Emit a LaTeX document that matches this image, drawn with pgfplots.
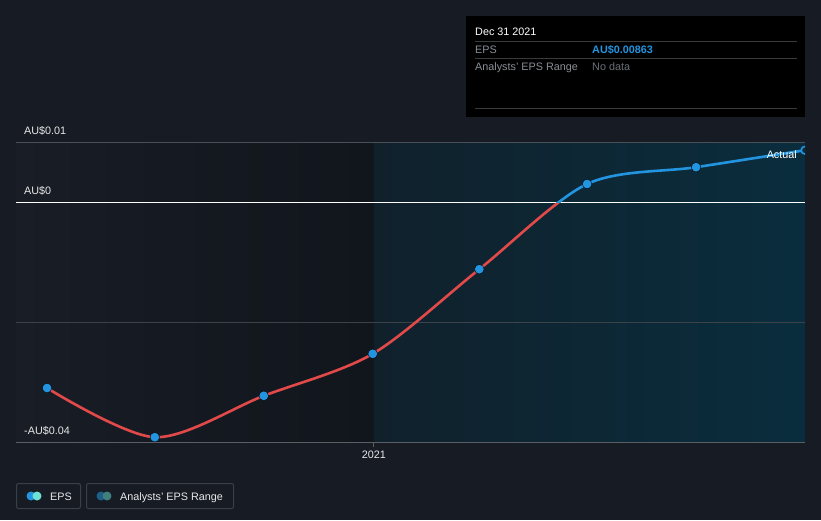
\documentclass[border=0pt]{standalone}
\usepackage{pgfplots}
\usepackage{pgfplotstable}
\pgfplotsset{compat=1.18}
\usepackage{fontspec}
\setmainfont{Liberation Sans}
\definecolor{bg}{HTML}{161B24}
\definecolor{leftA}{HTML}{181D26}
\definecolor{leftB}{HTML}{11151C}
\definecolor{rightA}{HTML}{10212C}
\definecolor{rightB}{HTML}{0A2D3D}
\definecolor{gridc}{HTML}{3C424A}
\definecolor{topc}{HTML}{4A5058}
\definecolor{bottomc}{HTML}{5A5F66}
\definecolor{epsblue}{HTML}{2394DF}
\definecolor{epsred}{HTML}{E24A4A}
\definecolor{epsteal}{HTML}{6EE0D4}
\definecolor{rngblue}{HTML}{1F5D8A}
\definecolor{rngteal}{HTML}{3F7F7C}
\definecolor{tipline}{HTML}{3A3A3A}
\definecolor{tipgrey}{HTML}{8A8F96}
\definecolor{tipdark}{HTML}{6B7078}
\definecolor{legborder}{HTML}{3A4049}
\definecolor{txt}{HTML}{E8E8E8}

% x = days since 31 Mar 2020
\pgfplotstableread{
x y
0 -0.0310
91 -0.0392
183 -0.0323
275 -0.0253
365 -0.0112
456 0.0030
548 0.0058
640 0.00863
}\epsdata
\pgfplotstableread{
x y
0 -0.0310
91 -0.0392
183 -0.0323
275 -0.0253
365 -0.0112
456 0.0030
548 0.0058
}\epsmarks

\begin{document}
\begin{tikzpicture}[font=\fontsize{10.8}{12}\selectfont]
\fill[bg] (0,0) rectangle (821pt,-520pt);
\useasboundingbox (0,0) rectangle (821pt,-520pt);

% tooltip
\fill[black] (466pt,-16pt) rectangle (805pt,-117pt);
\draw[tipline, line width=1pt] (475pt,-41pt) -- (797pt,-41pt);
\draw[tipline, line width=1pt] (475pt,-58pt) -- (797pt,-58pt);
\draw[tipline, line width=1pt] (475pt,-108pt) -- (797pt,-108pt);
\node[anchor=base west, inner sep=0pt, text=white] at (475pt,-35pt) {Dec 31 2021};
\node[anchor=base west, inner sep=0pt, text=tipgrey] at (475pt,-53pt) {EPS};
\node[anchor=base west, inner sep=0pt, text=epsblue, font=\fontsize{10.8}{12}\selectfont\bfseries] at (592pt,-53pt) {AU\$0.00863};
\node[anchor=base west, inner sep=0pt, text=tipgrey] at (475pt,-70pt) {Analysts' EPS Range};
\node[anchor=base west, inner sep=0pt, text=tipdark] at (592pt,-70pt) {No data};

% legend
\draw[legborder, line width=1pt, rounded corners=2pt] (16.5pt,-483.5pt) rectangle (80.5pt,-508.5pt);
\fill[epsblue] (31pt,-496pt) circle (4.5pt);
\fill[epsteal] (37pt,-496pt) circle (4.5pt);
\node[anchor=base west, inner sep=0pt, text=txt] at (50pt,-500pt) {EPS};
\draw[legborder, line width=1pt, rounded corners=2pt] (86.5pt,-483.5pt) rectangle (233.5pt,-508.5pt);
\fill[rngblue] (101pt,-496pt) circle (4.5pt);
\fill[rngteal] (107pt,-496pt) circle (4.5pt);
\node[anchor=base west, inner sep=0pt, text=txt] at (120pt,-500pt) {Analysts' EPS Range};

\begin{axis}[
  at={(16pt,-442pt)}, anchor=south west,
  scale only axis, width=789pt, height=300pt,
  xmin=-26.2, xmax=640, ymin=-0.04, ymax=0.01,
  axis line style={draw=none},
  ytick=\empty,
  xtick={276}, xticklabels={2021}, xtick pos=bottom,
  tick align=outside, major tick length=5pt,
  xtick style={draw=bottomc, line width=1pt},
  xticklabel style={text=txt, inner sep=0pt, anchor=north, yshift=-4pt},
  clip marker paths=true,
]
\fill[left color=leftA, right color=leftB] (axis cs:-26.2,-0.04) rectangle (axis cs:276,0.01);
\fill[left color=rightA, right color=rightB] (axis cs:276,-0.04) rectangle (axis cs:640,0.01);
\draw[topc, line width=1pt] (axis cs:-26.2,0.01) -- (axis cs:640,0.01);
\draw[gridc, line width=1pt] (axis cs:-26.2,-0.02) -- (axis cs:640,-0.02);
\draw[bottomc, line width=1pt] (axis cs:-26.2,-0.04) -- (axis cs:640,-0.04);
\draw[white, line width=1pt] (axis cs:-26.2,0) -- (axis cs:640,0);

\begin{scope}
\clip (axis cs:-100,-0.06) rectangle (axis cs:700,0);
\addplot[epsred, line width=2.6pt, smooth] table[x=x,y=y] {\epsdata};
\end{scope}
\begin{scope}
\clip (axis cs:-100,0) rectangle (axis cs:700,0.02);
\addplot[epsblue, line width=2.6pt, smooth] table[x=x,y=y] {\epsdata};
\end{scope}
\addplot[only marks, mark=*, mark size=4.8pt, mark options={fill=epsblue, draw=none}] table[x=x,y=y] {\epsmarks};
\addplot[only marks, mark=*, mark size=3.8pt, mark options={fill=rightB, draw=epsblue, line width=1.6pt}] coordinates {(640,0.00863)};
\node[anchor=base east, inner sep=0pt, text=white, xshift=-8pt] at (axis cs:640,0.00733) {Actual};
\end{axis}

% y labels (on top of the plot area)
\node[anchor=base west, inner sep=0pt, text=txt] at (24pt,-134pt) {AU\$0.01};
\node[anchor=base west, inner sep=0pt, text=txt] at (24pt,-194pt) {AU\$0};
\node[anchor=base west, inner sep=0pt, text=txt] at (24pt,-434pt) {-AU\$0.04};
\end{tikzpicture}
\end{document}
